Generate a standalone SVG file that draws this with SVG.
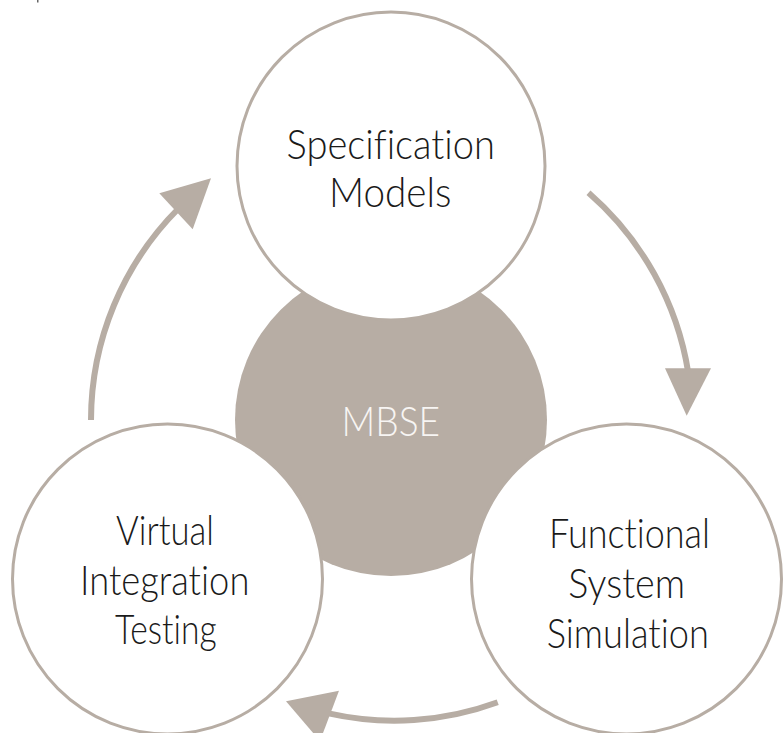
<svg xmlns="http://www.w3.org/2000/svg" width="784" height="733" viewBox="0 0 784 733">
  <style>
    .node { fill: #ffffff; stroke: #b7ada4; stroke-width: 3; }
    .hub { fill: #b7ada4; stroke: none; }
    .arc { fill: none; stroke: #b7ada4; stroke-width: 6; }
    .head { fill: #b7ada4; stroke: none; }
    .lbl { font-family: "Lato", "Roboto", "Liberation Sans", sans-serif; font-weight: 300; font-size: 41px; fill: #1a1a1a; text-anchor: middle; font-variant-ligatures: none; }
    .hubl { fill: #f7f5f3; }
  </style>
  <rect width="784" height="733" fill="#ffffff"/>
  <rect x="37" y="0" width="1.5" height="2.5" fill="#666666"/>

  <g id="connectors">
    <path class="arc" d="M91,420 A300,300 0 0 1 179,208"/>
    <polygon class="head" points="211,178.3 159.3,193.3 192.7,229.3"/>
    <path class="arc" d="M588.5,192.8 A301,301 0 0 1 688.3,372.9"/>
    <polygon class="head" points="665,368.3 711,368.3 686.7,415.7"/>
    <path class="arc" d="M497.7,702.3 A300,300 0 0 1 328.6,713.4"/>
    <polygon class="head" points="286,701.3 339,690.7 320,741"/>
  </g>

  <g id="mbse">
    <circle class="hub" cx="391" cy="420" r="156"/>
    <text class="lbl hubl" x="390.75" y="436" textLength="98.5" lengthAdjust="spacingAndGlyphs">MBSE</text>
  </g>

  <g id="specification-models">
    <circle class="node" cx="391" cy="166" r="154"/>
    <text class="lbl" x="390.75" y="159" textLength="208.5" lengthAdjust="spacingAndGlyphs">Specification</text>
    <text class="lbl" x="390.25" y="206.5" textLength="122.5" lengthAdjust="spacingAndGlyphs">Models</text>
  </g>

  <g id="virtual-integration-testing">
    <circle class="node" cx="167.5" cy="579" r="155"/>
    <text class="lbl" x="165" y="545" textLength="98" lengthAdjust="spacingAndGlyphs">Virtual</text>
    <text class="lbl" x="164.7" y="595" textLength="169.3" lengthAdjust="spacingAndGlyphs">Integration</text>
    <text class="lbl" x="165.8" y="644.3" textLength="101.7" lengthAdjust="spacingAndGlyphs">Testing</text>
  </g>

  <g id="functional-system-simulation">
    <circle class="node" cx="626.5" cy="579" r="155"/>
    <text class="lbl" x="629.5" y="548.3" textLength="161" lengthAdjust="spacingAndGlyphs">Functional</text>
    <text class="lbl" x="626.7" y="598.3" textLength="116.7" lengthAdjust="spacingAndGlyphs">System</text>
    <text class="lbl" x="627.8" y="647.7" textLength="162.3" lengthAdjust="spacingAndGlyphs">Simulation</text>
  </g>
</svg>
